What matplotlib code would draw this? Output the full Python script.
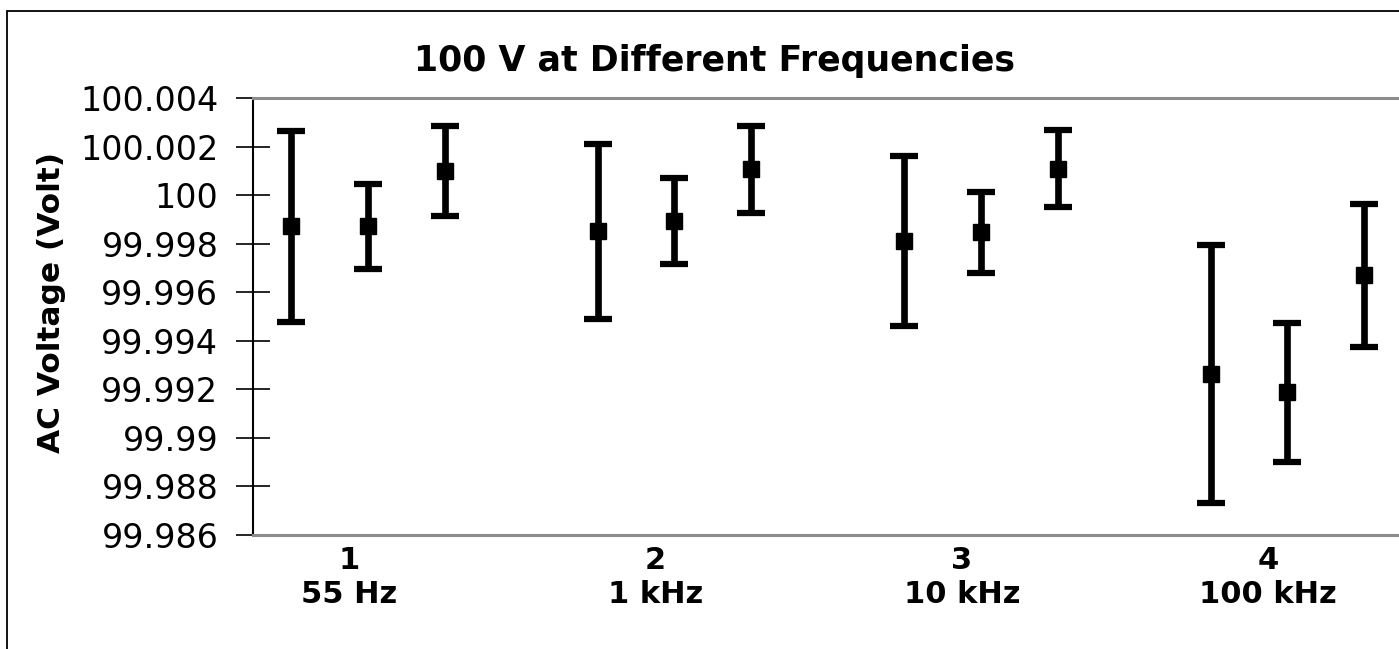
import numpy as np
import matplotlib
matplotlib.use("Agg")
import matplotlib.pyplot as plt
from matplotlib.patches import Rectangle
from matplotlib.ticker import FuncFormatter

# frequencies (category axis)
freq_nums = ["1", "2", "3", "4"]
freq_names = ["55 Hz", "1 kHz", "10 kHz", "100 kHz"]

# three measurements per frequency: mean value and +/- uncertainty (V)
mean_a = [99.99872, 99.99851, 99.99812, 99.99264]
err_a = [0.00393, 0.00361, 0.00350, 0.00531]
mean_b = [99.99872, 99.99892, 99.99846, 99.99187]
err_b = [0.00175, 0.00177, 0.00167, 0.00286]
mean_c = [100.00100, 100.00107, 100.00109, 99.99669]
err_c = [0.00186, 0.00179, 0.00160, 0.00293]

y_ticks = [99.986, 99.988, 99.99, 99.992, 99.994, 99.996,
           99.998, 100.0, 100.002, 100.004]

plt.rcParams["font.family"] = ["DejaVu Sans"]

W, H = 1399, 649
fig = plt.figure(figsize=(W / 100, H / 100), dpi=100)
# axes runs past the right edge like in the cropped original
ax = fig.add_axes([253 / W, 1 - 535 / H, 1226 / W, 437 / H])

n_groups = len(freq_names)
group_pos = np.arange(n_groups) * 4
for k, (m, e) in enumerate([(mean_a, err_a), (mean_b, err_b), (mean_c, err_c)]):
    ax.errorbar(group_pos + k, m, yerr=e, fmt="s", color="black",
                markersize=11, elinewidth=4.8, capsize=10.3, capthick=4.5,
                clip_on=False, zorder=3)

ax.set_xlim(-0.5, 15.5)
ax.set_ylim(y_ticks[0], y_ticks[-1])
ax.set_yticks(y_ticks)
ax.yaxis.set_major_formatter(
    FuncFormatter(lambda v, p: f"{v:.3f}".rstrip("0").rstrip("."))
)
ax.tick_params(axis="y", direction="inout", length=24, width=1.2,
               labelsize=24, pad=13)

ax.set_xticks(group_pos + 0.75)
ax.set_xticklabels([f"{a}\n{b}" for a, b in zip(freq_nums, freq_names)],
                   fontsize=22, fontweight="bold")
ax.tick_params(axis="x", length=0, pad=8)

ax.spines["right"].set_visible(False)
ax.spines["left"].set_linewidth(1.5)
ax.spines["left"].set_color("black")
for side in ["top", "bottom"]:
    ax.spines[side].set_color("#8c8c8c")
    ax.spines[side].set_linewidth(2.2)

fig.text(715 / W, 1 - 61 / H, "100 V at Different Frequencies",
         ha="center", va="center", fontsize=25, fontweight="bold")
fig.text(51 / W, 1 - 302 / H, "AC Voltage (Volt)", rotation=90,
         ha="center", va="center", fontsize=22.5, fontweight="bold")

# outer chart frame (cropped on right/bottom)
fig.patches.append(Rectangle((7 / W, -0.1), 1.2, 1 - 11 / H + 0.1,
                             transform=fig.transFigure, fill=False,
                             lw=1.3, edgecolor="black"))

fig.savefig("out.png", dpi=100)
